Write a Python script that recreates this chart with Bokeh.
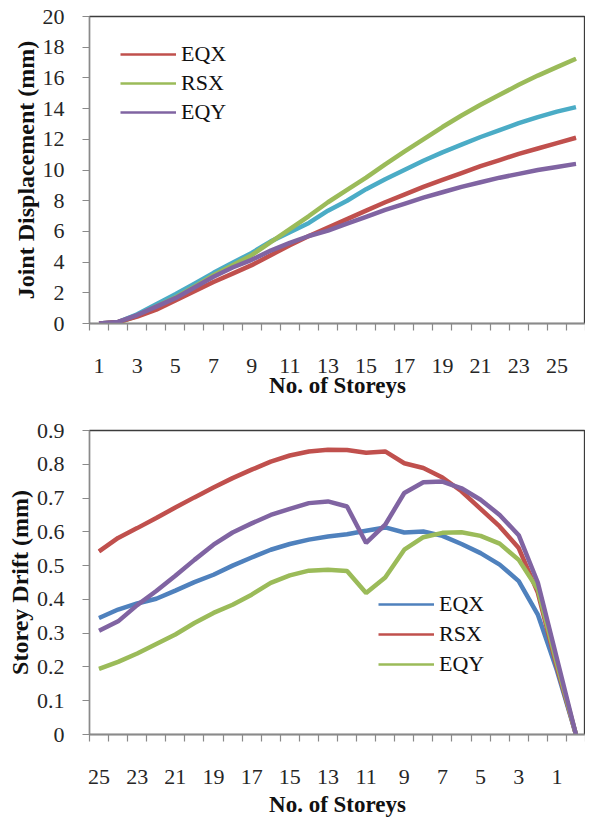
from bokeh.plotting import figure
from bokeh.layouts import column
from bokeh.models import Range1d, FixedTicker, Legend, LegendItem, NumeralTickFormatter
from bokeh.embed import file_html
from bokeh.resources import INLINE

FONT = "Liberation Serif"

# ---------------- data: top chart (joint displacement, mm) ----------------
storeys_top = [1, 2, 3, 4, 5, 6, 7, 8, 9, 10, 11, 12, 13, 14, 15, 16, 17, 18, 19, 20,
               21, 22, 23, 24, 25, 26]
disp_eqx = [0, 0.1, 0.45, 0.9, 1.5, 2.1, 2.7, 3.25, 3.8, 4.45, 5.1, 5.7, 6.25, 6.8, 7.35,
            7.9, 8.4, 8.9, 9.35, 9.8, 10.25, 10.65, 11.05, 11.4, 11.75, 12.1]
disp_rsx = [0, 0.05, 0.5, 1.1, 1.7, 2.4, 3.15, 3.8, 4.45, 5.3, 6.15, 7.0, 7.9, 8.7, 9.5,
            10.37, 11.2, 12.0, 12.8, 13.55, 14.25, 14.9, 15.55, 16.15, 16.7, 17.25]
disp_eqy = [0, 0.1, 0.55, 1.1, 1.65, 2.35, 3.05, 3.65, 4.15, 4.75, 5.25, 5.7, 6.05, 6.5,
            6.95, 7.4, 7.8, 8.2, 8.55, 8.9, 9.2, 9.5, 9.75, 10.0, 10.2, 10.4]
disp_rsy = [0, 0.1, 0.6, 1.25, 1.9, 2.6, 3.3, 3.95, 4.6, 5.35, 5.95, 6.55, 7.35, 8.0, 8.75,
            9.4, 10.0, 10.6, 11.15, 11.65, 12.15, 12.6, 13.05, 13.45, 13.8, 14.1]
top_xticks = [1, 3, 5, 7, 9, 11, 13, 15, 17, 19, 21, 23, 25]
top_yticks = [0, 2, 4, 6, 8, 10, 12, 14, 16, 18, 20]

# ---------------- data: bottom chart (storey drift, mm) ----------------
storeys_bot = [25, 24, 23, 22, 21, 20, 19, 18, 17, 16, 15, 14, 13, 12, 11, 10, 9, 8, 7, 6,
               5, 4, 3, 2, 1, 0]
drift_eqx = [0.345, 0.37, 0.388, 0.402, 0.426, 0.451, 0.473, 0.5, 0.524, 0.547, 0.564,
             0.577, 0.586, 0.593, 0.603, 0.613, 0.598, 0.601, 0.588, 0.564, 0.537, 0.503,
             0.454, 0.355, 0.19, 0.0]
drift_rsx = [0.542, 0.582, 0.611, 0.641, 0.672, 0.702, 0.731, 0.759, 0.784, 0.808, 0.826,
             0.838, 0.843, 0.842, 0.834, 0.838, 0.803, 0.789, 0.761, 0.72, 0.668, 0.616,
             0.552, 0.42, 0.2, 0.0]
drift_eqy = [0.194, 0.215, 0.24, 0.268, 0.296, 0.33, 0.36, 0.384, 0.414, 0.449, 0.471,
             0.485, 0.488, 0.484, 0.419, 0.465, 0.547, 0.584, 0.597, 0.599, 0.588, 0.565,
             0.517, 0.43, 0.21, 0.0]
drift_rsy = [0.307, 0.335, 0.383, 0.425, 0.47, 0.517, 0.562, 0.598, 0.625, 0.65, 0.668,
             0.685, 0.69, 0.675, 0.567, 0.621, 0.715, 0.747, 0.749, 0.729, 0.695, 0.65,
             0.59, 0.45, 0.225, 0.0]
bot_xticks = [25, 23, 21, 19, 17, 15, 13, 11, 9, 7, 5, 3, 1]
bot_yticks = [0, 0.1, 0.2, 0.3, 0.4, 0.5, 0.6, 0.7, 0.8, 0.9]

legend_labels = ["EQX", "RSX", "EQY"]

BLUE = "#4F81BD"
RED = "#C0504D"
GREEN = "#9BBB59"
PURPLE = "#8064A2"
AQUA = "#4BACC6"

LW = 4.5
AXIS_GRAY = "#8a8a8a"
TEXT = "#262626"


def style(p, xticks, x_lo, x_hi, yticks, xlabel, ylabel):
    lo, hi = min(x_lo, x_hi), max(x_lo, x_hi)
    n = int(round(hi - lo))
    minor = [lo + k for k in range(n + 1)]
    p.xaxis.ticker = FixedTicker(ticks=xticks, minor_ticks=minor)
    p.yaxis.ticker = FixedTicker(ticks=yticks)
    p.xgrid.visible = False
    p.ygrid.visible = False
    p.outline_line_color = "#3c3c3c"
    p.outline_line_width = 1.3
    for ax in (p.xaxis, p.yaxis):
        ax.axis_line_color = AXIS_GRAY
        ax.axis_line_width = 1.3
        ax.major_tick_line_color = AXIS_GRAY
        ax.minor_tick_line_color = AXIS_GRAY
        ax.major_tick_line_width = 1.2
        ax.minor_tick_line_width = 1.2
        ax.major_label_text_font = FONT
        ax.major_label_text_font_size = "22px"
        ax.major_label_text_color = TEXT
        ax.axis_label_text_font = FONT
        ax.axis_label_text_font_style = "bold"
        ax.axis_label_text_color = "#111111"
    p.xaxis.axis_label_text_font_size = "23px"
    p.yaxis.axis_label_text_font_size = "24px"
    p.xaxis.major_tick_out = 0
    p.xaxis.major_tick_in = 0
    p.xaxis.minor_tick_out = 7
    p.xaxis.minor_tick_in = 0
    p.xaxis.major_label_standoff = 28
    p.xaxis.axis_label_standoff = -3
    p.xaxis.axis_label = xlabel
    p.yaxis.major_tick_out = 7
    p.yaxis.major_tick_in = 0
    p.yaxis.minor_tick_out = 0
    p.yaxis.minor_tick_in = 0
    p.yaxis.major_label_standoff = 18
    p.yaxis.axis_label_standoff = 1
    p.yaxis.axis_label = ylabel


def add_series(p, x, ys, colors, legend_flags):
    thin = []
    for y, c, flag in zip(ys, colors, legend_flags):
        if flag:
            thin.append(p.line(x, y, line_color=c, line_width=2.6))
    for y, c in zip(ys, colors):
        p.line(x, y, line_color=c, line_width=LW)
    return thin


def make_legend(p, renderers, loc, spacing):
    items = [LegendItem(label=lab, renderers=[r]) for lab, r in zip(legend_labels, renderers)]
    lg = Legend(items=items, location=loc, glyph_width=56, glyph_height=24,
                label_height=24, spacing=spacing, padding=0, margin=0,
                label_standoff=5, border_line_color=None, background_fill_alpha=0,
                label_text_font=FONT, label_text_font_size="22px",
                label_text_color="#111111")
    p.add_layout(lg)


# ---------------- top figure ----------------
p1 = figure(width=585, height=406, output_backend="svg", toolbar_location=None,
            x_range=Range1d(0.5, 26.5), y_range=Range1d(0, 20),
            min_border_left=89, min_border_right=0, min_border_top=16,
            min_border_bottom=83)
thin1 = add_series(p1, storeys_top, [disp_rsy, disp_rsx, disp_eqx, disp_eqy],
                   [AQUA, GREEN, RED, PURPLE], [False, True, True, True])
style(p1, top_xticks, 0.5, 26.5, top_yticks, "No. of Storeys", "Joint Displacement (mm)")
# legend order: EQX, RSX, EQY
make_legend(p1, [thin1[1], thin1[0], thin1[2]], (31, 198), 3)

# ---------------- bottom figure ----------------
p2 = figure(width=585, height=413, output_backend="svg", toolbar_location=None,
            x_range=Range1d(25.5, -0.5), y_range=Range1d(0, 0.9),
            min_border_left=89, min_border_right=0, min_border_top=24,
            min_border_bottom=84)
thin2 = add_series(p2, storeys_bot, [drift_eqx, drift_rsx, drift_eqy, drift_rsy],
                   [BLUE, RED, GREEN, PURPLE], [True, True, True, False])
style(p2, bot_xticks, 25.5, -0.5, bot_yticks, "No. of Storeys", "Storey Drift (mm)")
p2.yaxis.formatter = NumeralTickFormatter(format="0.[0]")
p2.xaxis.axis_label_standoff = 5
make_legend(p2, thin2, (289, 57), 4)

layout = column(p1, p2, spacing=0)
open("out.html", "w").write(file_html(layout, INLINE))
